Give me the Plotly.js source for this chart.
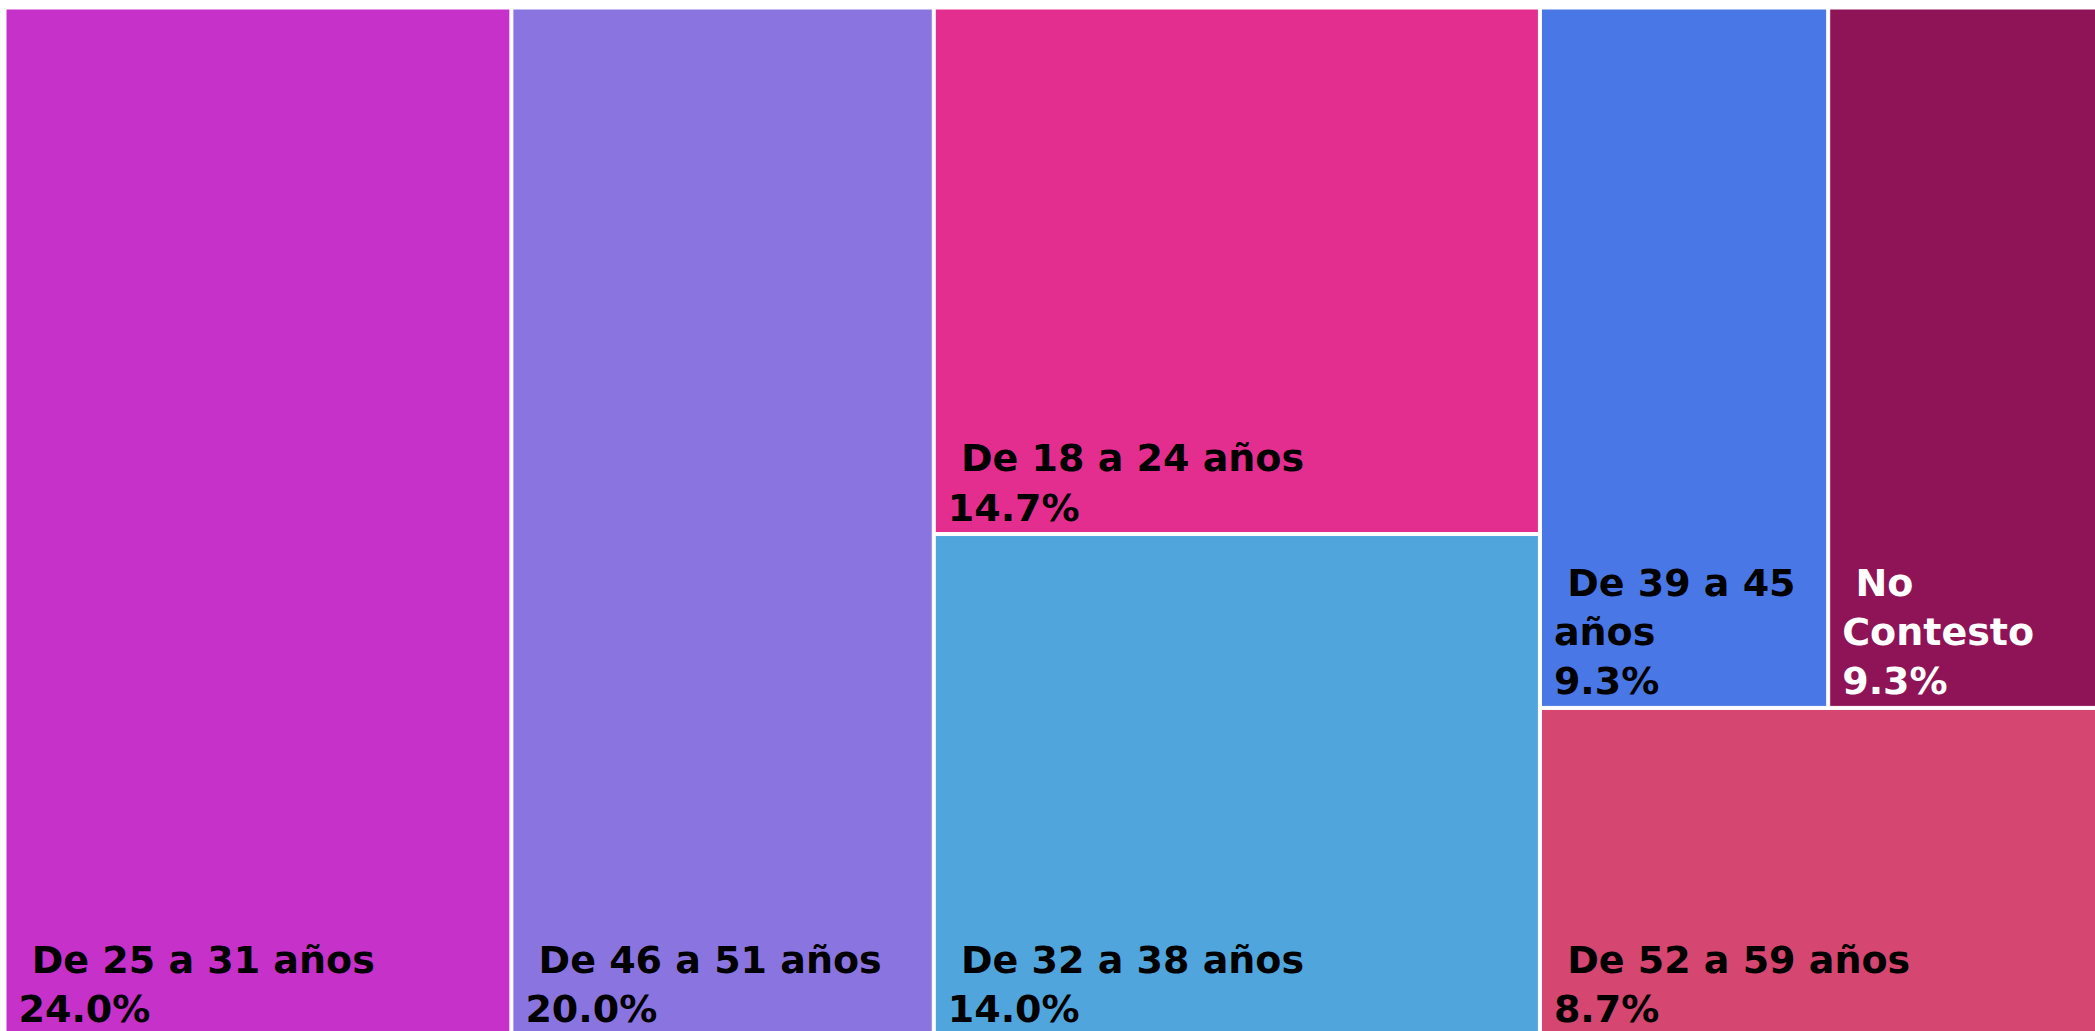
<!DOCTYPE html>
<html>
<head>
<meta charset="utf-8">
<script src="https://cdn.plot.ly/plotly-3.0.1.min.js"></script>
<style>
  html, body { margin: 0; padding: 0; overflow: hidden; background: #ffffff; }
  #chart { width: 2115px; height: 1034px; }
</style>
</head>
<body>
<div id="chart"></div>
<script>
// Categories (age groups), in tile order
const categories = [
  "De 25 a 31 años",
  "De 46 a 51 años",
  "De 18 a 24 años",
  "De 32 a 38 años",
  "De 39 a 45 años",
  "No Contesto",
  "De 52 a 59 años"
];
// Share of respondents (%)
const percentages = [24.0, 20.0, 14.7, 14.0, 9.3, 9.3, 8.7];
// Text shown inside each tile (wrapped as in the original)
const tileLabels = [
  "\u00a0De 25 a 31 años",
  "\u00a0De 46 a 51 años",
  "\u00a0De 18 a 24 años",
  "\u00a0De 32 a 38 años",
  "\u00a0De 39 a 45<br>años",
  "\u00a0No<br>Contesto",
  "\u00a0De 52 a 59 años"
];
const tileColors = ["#C531C9", "#8A75E0", "#E42E8F", "#50A6DC", "#4A77E6", "#8F1457", "#D54670"];
const textColors = ["#000000", "#000000", "#000000", "#000000", "#000000", "#ffffff", "#000000"];
// Layout grouping of the tiles (columns / rows), not drawn themselves
const leafParents = ["", "", "col3", "col3", "row4", "row4", "col4"];
const groupIds = ["col3", "col4", "row4"];
const groupParents = ["", "", "col4"];

// Build node arrays: first six leaves, then the groups, then the last leaf
// (order matters because sort is off)
const ids = [], labels = [], parents = [], values = [], texts = [], colors = [], tcolors = [], templates = [];
function addLeaf(i) {
  ids.push(categories[i]); labels.push(categories[i]); parents.push(leafParents[i]);
  values.push(percentages[i]); texts.push(tileLabels[i]); colors.push(tileColors[i]);
  tcolors.push(textColors[i]); templates.push("%{text}<br>\u2005%{value:.1f}%");
}
function addGroup(j) {
  ids.push(groupIds[j]); labels.push(""); parents.push(groupParents[j]);
  values.push(0); texts.push(""); colors.push("#ffffff");
  tcolors.push("rgba(0,0,0,0)"); templates.push("");
}
for (let i = 0; i < 6; i++) addLeaf(i);
for (let j = 0; j < groupIds.length; j++) addGroup(j);
addLeaf(6);

// add the small left offset seen in the original text
for (let k = 0; k < texts.length; k++) if (texts[k]) texts[k] = "\u2005" + texts[k].replace("<br>", "<br>\u2005");

const trace = {
  type: "treemap",
  ids: ids,
  labels: labels,
  parents: parents,
  values: values,
  branchvalues: "remainder",
  text: texts,
  texttemplate: templates,
  textposition: "bottom left",
  textfont: { family: "DejaVu Sans", size: 38, weight: "bold", color: tcolors },
  marker: {
    colors: colors,
    line: { color: "#ffffff", width: 1 },
    pad: { t: 0, l: 0, r: 0, b: 0 }
  },
  tiling: { packing: "slice-dice", pad: 3 },
  pathbar: { visible: false },
  sort: false,
  hoverinfo: "label+value"
};

const layout = {
  width: 2115,
  height: 1034,
  margin: { l: 6, r: 0, t: 9, b: 0, pad: 0 },
  paper_bgcolor: "#ffffff",
  showlegend: false
};

Plotly.newPlot("chart", [trace], layout, { displayModeBar: false, staticPlot: true });
</script>
</body>
</html>
